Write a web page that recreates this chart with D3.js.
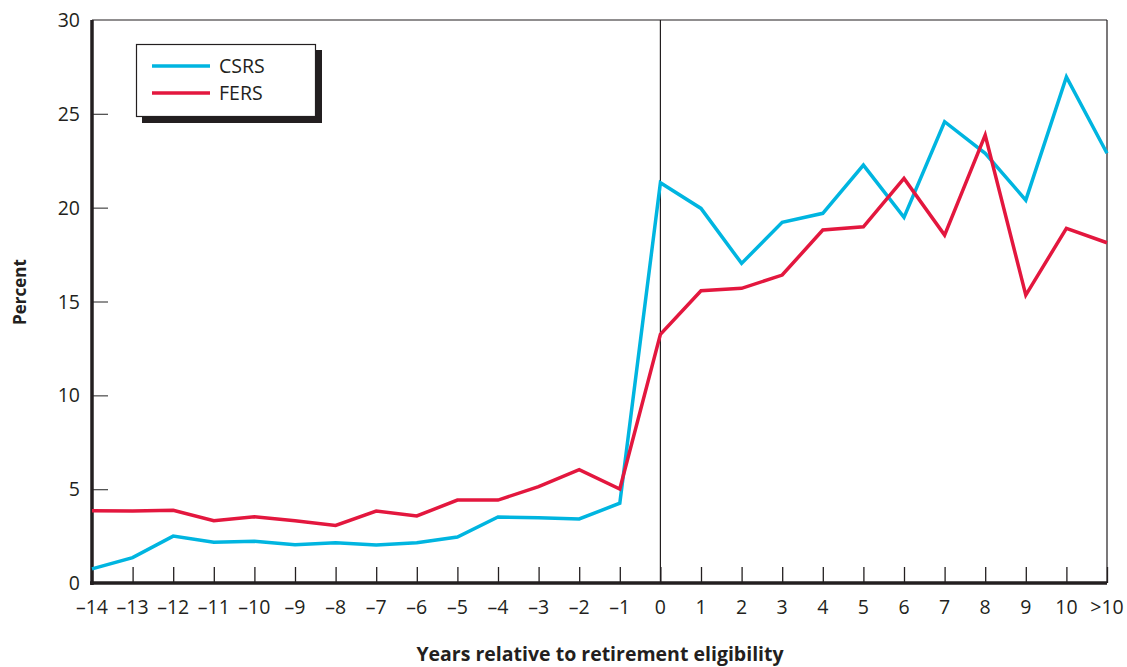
<!DOCTYPE html>
<html><head><meta charset="utf-8">
<script src="https://cdn.jsdelivr.net/npm/d3@7"></script>
<style>body{margin:0;background:#fff;}svg{display:block;font-family:"Open Sans","Noto Sans",sans-serif;}</style>
</head><body>
<svg id="chart" width="1127" height="667"></svg>
<script>
const categories = ["–14","–13","–12","–11","–10","–9","–8","–7","–6","–5","–4","–3","–2","–1","0","1","2","3","4","5","6","7","8","9","10",">10"];
const csrs = [0.75,1.35,2.5,2.17,2.22,2.04,2.15,2.02,2.15,2.45,3.52,3.48,3.41,4.25,21.33,19.96,17.03,19.22,19.70,22.27,19.48,24.58,22.9,20.4,26.96,22.9];
const fers = [3.85,3.83,3.88,3.32,3.53,3.32,3.07,3.83,3.57,4.42,4.42,5.13,6.04,5.01,13.25,15.57,15.70,16.41,18.81,18.98,21.56,18.54,23.87,15.34,18.9,18.13];
const yTicks = [0,5,10,15,20,25,30];
const seriesNames = ["CSRS","FERS"];
const colors = ["#00b5e0","#e3173e"];

(function(){
const svg = d3.select("#chart");
const pl = 92, pr = 1107, pt = 20, pb = 583;
const x = d3.scalePoint().domain(categories).range([pl, pr]);
const y = d3.scaleLinear().domain([0,30]).range([pb, pt]);
const ink = "#231f20";

svg.append("line").attr("x1",pl).attr("x2",pr).attr("y1",pt).attr("y2",pt).attr("stroke",ink).attr("stroke-width",1.2);
svg.append("line").attr("x1",pr).attr("x2",pr).attr("y1",pt).attr("y2",pb).attr("stroke",ink).attr("stroke-width",1.2);
svg.append("line").attr("x1",x("0")).attr("x2",x("0")).attr("y1",pt).attr("y2",pb).attr("stroke",ink).attr("stroke-width",1.2);

const yAxis = d3.axisRight(y).tickValues(yTicks).tickSize(16).tickFormat("");
const yg = svg.append("g").attr("transform",`translate(${pl},0)`).call(yAxis);
yg.select(".domain").remove();
yg.selectAll(".tick line").attr("stroke","#555").attr("stroke-width",1.3).filter(d=>d===0||d===30).remove();
svg.append("g").selectAll("text").data(yTicks).join("text")
  .attr("x",80).attr("y",d=>y(d)).attr("dy","0.36em").attr("text-anchor","end")
  .attr("font-size",19.5).attr("fill",ink).text(d=>d);

const xAxis = d3.axisTop(x).tickSize(16).tickFormat("");
const xg = svg.append("g").attr("transform",`translate(0,${pb})`).call(xAxis);
xg.select(".domain").remove();
xg.selectAll(".tick line").attr("stroke",ink).attr("stroke-width",1.3);
svg.append("g").selectAll("text").data(categories).join("text")
  .attr("x",d=>x(d)).attr("y",607).attr("dy","0.36em").attr("text-anchor","middle")
  .attr("font-size",19.5).attr("fill",ink).text(d=>d);

svg.append("line").attr("x1",pl).attr("x2",pl).attr("y1",pt).attr("y2",pb+2).attr("stroke",ink).attr("stroke-width",3.5);
svg.append("line").attr("x1",pl-2).attr("x2",pr).attr("y1",pb).attr("y2",pb).attr("stroke",ink).attr("stroke-width",3.5);

const line = d3.line().x((d,i)=>x(categories[i])).y(d=>y(d));
[csrs, fers].forEach((s,k)=>{
  svg.append("path").datum(s).attr("d",line).attr("fill","none")
    .attr("stroke",colors[k]).attr("stroke-width",3.5).attr("stroke-linejoin","miter");
});

const lg = svg.append("g");
lg.append("rect").attr("x",142).attr("y",50).attr("width",180).attr("height",73).attr("fill",ink);
lg.append("rect").attr("x",136.5).attr("y",44.5).attr("width",179).attr("height",72).attr("fill","#fff").attr("stroke",ink).attr("stroke-width",1.2);
seriesNames.forEach((n,k)=>{
  const yy = 66 + k*27;
  lg.append("line").attr("x1",152).attr("x2",210).attr("y1",yy).attr("y2",yy).attr("stroke",colors[k]).attr("stroke-width",3.5);
  lg.append("text").attr("x",219).attr("y",yy).attr("dy","0.36em").attr("font-size",19.5).attr("fill",ink).text(n);
});

svg.append("text").attr("x",600).attr("y",661).attr("text-anchor","middle").attr("font-weight","bold").attr("font-size",19.5).attr("fill",ink).text("Years relative to retirement eligibility");
svg.append("text").attr("transform","translate(26,292) rotate(-90)").attr("text-anchor","middle").attr("font-weight","bold").attr("font-size",17).attr("fill",ink).text("Percent");
})();
</script>
</body></html>
